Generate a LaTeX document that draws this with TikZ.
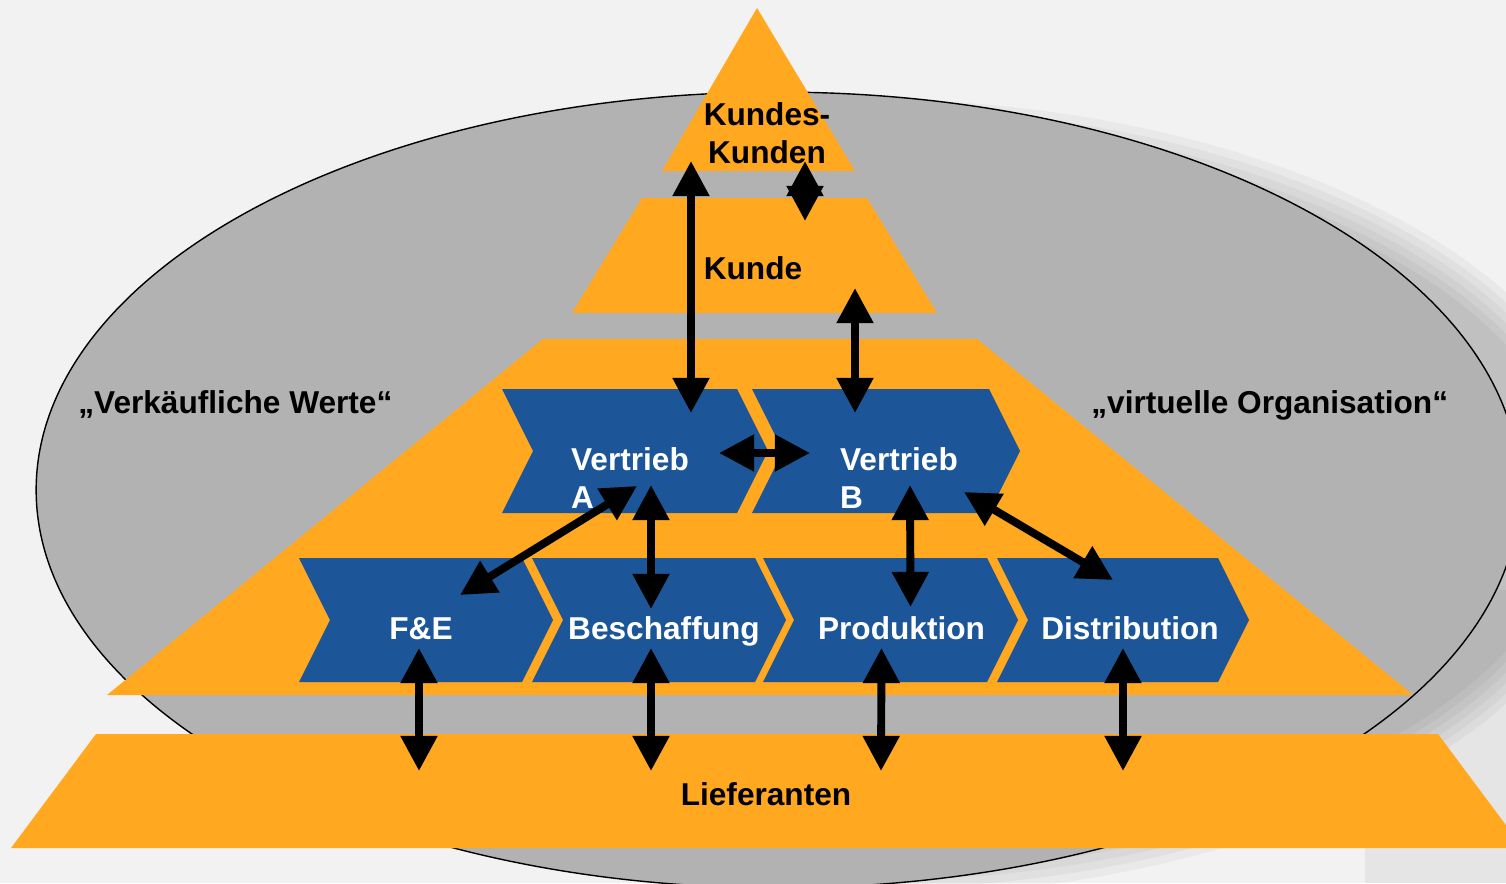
\documentclass[tikz,border=0pt]{standalone}
\usepackage{fontspec}
\setmainfont{Liberation Sans}
\usetikzlibrary{arrows.meta,calc}
\definecolor{layerorange}{HTML}{FFA820}
\definecolor{chevblue}{HTML}{1C5598}
\definecolor{ovalgray}{HTML}{B2B2B2}
\definecolor{bggray}{HTML}{F2F2F2}
\tikzstyle{layer}=[fill=layerorange]
\tikzstyle{chevron}=[fill=chevblue]
\tikzstyle{stage}=[inner sep=0pt, minimum size=0pt]
\tikzstyle{caption}=[font=\bfseries\fontsize{18}{21.5}\selectfont, inner sep=0pt]
\tikzstyle{stagetext}=[caption, text=white]
\tikzstyle{edge}=[draw, line width=4.5pt, <->, >={Triangle[length=20pt,width=20pt]}]

\begin{document}
\begin{tikzpicture}[x=0.02cm, y=-0.02cm]
    \useasboundingbox (0,0) rectangle (1506,883);
    \clip (0,0) rectangle (1506,883);
    \fill[bggray] (0,0) rectangle (1506,883);

    % shadow and oval
    \fill[black, opacity=0.05] (1365,590) rectangle (1506,883);
    \foreach \d in {-36,-28,-20,-12,-4,4}
        \fill[black, opacity=0.035] (860,498) ellipse [x radius={(750+\d)*0.02cm}, y radius={(395+\d)*0.02cm}];
    \filldraw[fill=ovalgray, draw=black, line width=0.8pt] (778,490) ellipse [x radius=14.84cm, y radius=7.96cm];

    % the pyramid layers
    \fill[layer] (757,8) -- (855,171) -- (662,171) -- cycle;
    \fill[layer] (642,198) -- (867,198) -- (937,313) -- (572,313) -- cycle;
    \fill[layer] (543,339) -- (977,339) -- (1413,695) -- (107,695) -- cycle;
    \fill[layer] (96,734) -- (1438,734) -- (1523,848) -- (11,848) -- cycle;

    \node[caption, align=center] (kk) at (767,133) {Kundes-\\Kunden};
    \node[caption, anchor=base] (kunde) at (753,279) {Kunde};
    \node[caption, anchor=base] (liefer) at (766,805) {Lieferanten};
    \node[caption, anchor=base west] (sellable) at (78,413) {„Verkäufliche Werte“};
    \node[caption, anchor=base west] (virtual) at (1091,413) {„virtuelle Organisation“};

    % chevrons of the value chain
    \foreach \name/\xl/\yt/\w in {vA/502/389/266, vB/752/389/268, fe/299/558/254, besch/532/558/254, prod/763/558/255, dist/997/558/252}{
        \fill[chevron] (\xl,\yt) -- ++(\w-31,0) -- ++(31,62) -- ++(-31,62) -- ++(31-\w,0) -- ++(31,-62) -- cycle;
        \node[stage] (\name) at (\xl+\w/2,\yt+62) {};
    }

    \node[stagetext, align=left] (vA-text) at ([shift={(-5,27)}]vA) {Vertrieb\\A};
    \node[stagetext, align=left] (vB-text) at ([shift={(13,27)}]vB) {Vertrieb\\B};
    \foreach \name/\dx/\txt in {fe/-5/F\&E, besch/5/Beschaffung, prod/11/Produktion, dist/7/Distribution}
        \node[stagetext, anchor=base] (\name-text) at ([shift={(\dx,19)}]\name) {\txt};

    % Connect with double arrows
    \path[edge] ([shift={(-76,28)}]kk.center) -- ([shift={(56,-38)}]vA.center);
    \path[edge] ([shift={(38,28)}]kk.center) -- ([shift={(52,-58)}]kunde.base);
    \path[edge] ([shift={(102,9)}]kunde.base) -- ([shift={(-31,-38)}]vB.center);
    \path[edge] ([shift={(84,2)}]vA.center) -- ([shift={(-76,2)}]vB.center);
    \path[edge] ([shift={(2,35)}]vA.center) -- ([shift={(34,-25)}]fe.center);
    \path[edge] ([shift={(16,34)}]vA.center) -- ([shift={(-8,-11)}]besch.center);
    \path[edge] ([shift={(24,34)}]vB.center) -- ([shift={(20,-13)}]prod.center);
    \path[edge] ([shift={(78,41)}]vB.center) -- ([shift={(-10,-40)}]dist.center);
    \foreach \name/\dx/\lx in {fe/-7/-347, besch/-8/-115, prod/-9/115, dist/0/357}
        \path[edge] ([shift={(\dx,28)}]\name.center) -- ([shift={(\lx,-34)}]liefer.base);
\end{tikzpicture}
\end{document}
